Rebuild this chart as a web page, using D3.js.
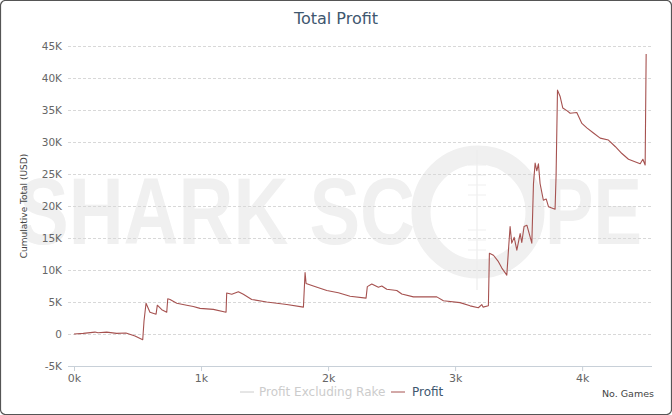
<!DOCTYPE html>
<html>
<head>
<meta charset="utf-8">
<script src="https://cdn.jsdelivr.net/npm/d3@7/dist/d3.min.js"></script>
<style>
  html, body { margin: 0; padding: 0; background: #fff; }
  svg { display: block; }
</style>
</head>
<body>
<svg id="chart" width="672" height="415"></svg>
<script>
// ---- data ----
const title = "Total Profit";
const yTicks = [-5000, 0, 5000, 10000, 15000, 20000, 25000, 30000, 35000, 40000, 45000];
const xTicks = [0, 1000, 2000, 3000, 4000];
const seriesNames = ["Profit Excluding Rake", "Profit"];
const games = [0, 73, 165, 189, 257, 336, 409, 480, 541, 551, 567, 598, 646, 656, 691, 730, 738, 756, 809, 887, 939, 992,
  1097, 1197, 1202, 1242, 1294, 1333, 1399, 1517, 1675, 1806, 1819, 1827, 1884, 1990, 2081, 2173, 2299, 2309, 2344, 2396,
  2423, 2462, 2541, 2580, 2672, 2777, 2856, 2908, 3039, 3118, 3183, 3210, 3220, 3262, 3270, 3302, 3341, 3368, 3407, 3420,
  3433, 3446, 3465, 3486, 3512, 3525, 3543, 3565, 3604, 3617, 3630, 3643, 3656, 3669, 3695, 3717, 3735, 3787, 3795, 3806,
  3827, 3848, 3880, 3906, 3958, 3998, 4037, 4089, 4142, 4207, 4260, 4313, 4365, 4431, 4457, 4478, 4496, 4504];
const profit = [0, 100, 300, 200, 300, 100, 150, -300, -900, 2000, 4800, 3400, 3100, 4500, 3800, 3400, 5500, 5400, 4800, 4500, 4300, 4000,
  3850, 3400, 6400, 6200, 6600, 6200, 5400, 5000, 4600, 4200, 9600, 7900, 7500, 6800, 6450, 5900, 5600, 7400, 7800, 7300,
  7500, 7000, 6800, 6250, 5800, 5800, 5800, 5200, 4900, 4400, 4100, 4600, 4200, 4400, 12600, 12300, 11300, 10300, 9200, 13100,
  16800, 14200, 15100, 13100, 15700, 14300, 16800, 17000, 14200, 23500, 26700, 25500, 26600, 23500, 20900, 21100, 19900, 19500, 24800, 38100,
  37100, 35300, 34900, 34500, 34600, 32900, 32200, 31400, 30600, 30300, 29300, 28200, 27300, 26800, 26600, 27300, 26400, 43750];

// ---- layout ----
const W = 672, H = 415;
const svg = d3.select("#chart");
const x = d3.scaleLinear().domain([0, 4550]).range([74, 652]);
const y = d3.scaleLinear().domain([-5000, 45000]).range([366, 46]);

// border
svg.append("rect").attr("x", 0.5).attr("y", 0.5).attr("width", W - 1).attr("height", H - 1)
  .attr("rx", 5).attr("fill", "#fff").attr("stroke", "#555").attr("stroke-width", 1.2);

// watermark
const wm = svg.append("g").attr("fill", "#f0f0f0");
wm.append("text").attr("x", 18).attr("y", 244).attr("textLength", 397).attr("lengthAdjust", "spacingAndGlyphs")
  .attr("font-family", "Liberation Sans, Arial, sans-serif").attr("font-weight", "bold").attr("font-size", 94)
  .text("SHARK SC");
wm.append("text").attr("x", 545).attr("y", 244).attr("textLength", 97).attr("lengthAdjust", "spacingAndGlyphs")
  .attr("font-family", "Liberation Sans, Arial, sans-serif").attr("font-weight", "bold").attr("font-size", 94)
  .text("PE");
wm.append("circle").attr("cx", 478).attr("cy", 212).attr("r", 57).attr("fill", "none")
  .attr("stroke", "#f0f0f0").attr("stroke-width", 19);
wm.append("line").attr("x1", 477).attr("x2", 477).attr("y1", 150).attr("y2", 290)
  .attr("stroke", "#ededed").attr("stroke-width", 1.2);
[165, 175, 185, 195, 230, 240, 250, 260].forEach(v => {
  wm.append("line").attr("x1", 468).attr("x2", 486).attr("y1", v).attr("y2", v)
    .attr("stroke", "#efefef").attr("stroke-width", 1);
});

// title
svg.append("text").attr("x", 336).attr("y", 24).attr("text-anchor", "middle")
  .attr("font-family", "DejaVu Sans, sans-serif").attr("font-size", 16).attr("fill", "#3e576f")
  .text(title);

// y grid + labels
const yAxis = d3.axisLeft(y).tickValues(yTicks).tickSize(-(652 - 68)).tickPadding(6)
  .tickFormat(d => d === 0 ? "0" : (d / 1000) + "K");
const gy = svg.append("g").attr("transform", "translate(68,0)").call(yAxis);
gy.select(".domain").remove();
gy.selectAll(".tick line").attr("stroke", "#d8d8d8").attr("stroke-dasharray", "3,2");
gy.selectAll(".tick text").attr("font-family", "DejaVu Sans, sans-serif").attr("font-size", 10.5)
  .attr("fill", "#666").attr("x", -6);

// x axis
const xAxis = d3.axisBottom(x).tickValues(xTicks).tickSize(5).tickPadding(3)
  .tickFormat(d => (d / 1000) + "k");
const gx = svg.append("g").attr("transform", "translate(0,366)").call(xAxis);
gx.select(".domain").attr("d", "M68,0.5H652").attr("stroke", "#c8d0d8");
gx.selectAll(".tick line").attr("stroke", "#c8d0d8");
gx.selectAll(".tick text").attr("font-family", "DejaVu Sans, sans-serif").attr("font-size", 11)
  .attr("fill", "#666");

// y axis title
svg.append("text").attr("transform", "translate(27,206) rotate(-90)").attr("text-anchor", "middle")
  .attr("font-family", "DejaVu Sans, sans-serif").attr("font-size", 9).attr("fill", "#444")
  .text("Cumulative Total (USD)");

// line
const data = games.map((g, i) => ({ g, v: profit[i] }));
svg.append("path").datum(data)
  .attr("fill", "none").attr("stroke", "#a65250").attr("stroke-width", 1.1)
  .attr("stroke-linejoin", "round")
  .attr("d", d3.line().x(d => x(d.g)).y(d => y(d.v)));

// legend
const lg = svg.append("g").attr("font-family", "DejaVu Sans, sans-serif").attr("font-size", 12);
lg.append("line").attr("x1", 240).attr("x2", 254).attr("y1", 392).attr("y2", 392).attr("stroke", "#ccc");
lg.append("text").attr("x", 259).attr("y", 396).attr("fill", "#ccc").text(seriesNames[0]);
lg.append("line").attr("x1", 391).attr("x2", 405).attr("y1", 392).attr("y2", 392).attr("stroke", "#a65250");
lg.append("text").attr("x", 412).attr("y", 396).attr("fill", "#3e576f").text(seriesNames[1]);

// x axis title
svg.append("text").attr("x", 654).attr("y", 397).attr("text-anchor", "end")
  .attr("font-family", "DejaVu Sans, sans-serif").attr("font-size", 9.5).attr("fill", "#444")
  .text("No. Games");
</script>
</body>
</html>
